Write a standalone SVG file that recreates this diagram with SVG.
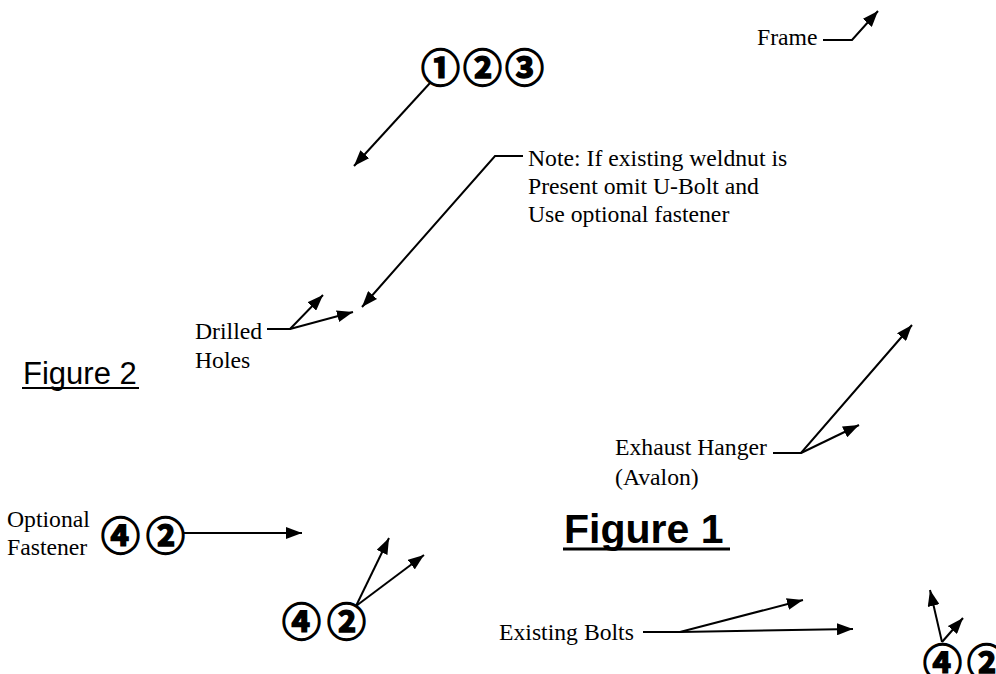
<svg xmlns="http://www.w3.org/2000/svg" width="996" height="674" viewBox="0 0 996 674">
<defs>
<marker id="ah" viewBox="0 0 16 12" refX="16" refY="6" markerWidth="16" markerHeight="12" markerUnits="userSpaceOnUse" orient="auto">
<path d="M0,0 L16,6 L0,12 z" fill="#000"/>
</marker>
</defs>
<style>
.t{font-family:"Liberation Serif","Times New Roman",serif;font-size:23.7px;fill:#000}
.c{font-family:"Noto Sans CJK JP","DejaVu Sans",sans-serif;font-weight:700;fill:#000;stroke:#000;stroke-width:1.4px}
.f{font-family:"Liberation Sans",Arial,sans-serif;fill:#000}
.l{fill:none;stroke:#000;stroke-width:2}
.a{fill:none;stroke:#000;stroke-width:2;marker-end:url(#ah)}
</style>
<rect width="996" height="674" fill="#fff"/>
<g id="callout-123"><text class="c" x="421" y="82" font-size="39" letter-spacing="3">①②③</text></g>
<g id="frame"><text class="t" x="757" y="45">Frame</text></g>
<g id="note"><text class="t" x="528" y="166">Note: If existing weldnut is</text><text class="t" x="528" y="194">Present omit U-Bolt and</text><text class="t" x="528" y="222">Use optional fastener</text></g>
<g id="drilled"><text class="t" x="195" y="339">Drilled</text><text class="t" x="195" y="368">Holes</text></g>
<g id="figure2"><text class="f" x="23" y="384" font-size="31">Figure 2</text><line x1="22" y1="388" x2="139" y2="388" stroke="#000" stroke-width="2"/></g>
<g id="exhaust"><text class="t" x="615" y="455">Exhaust Hanger</text><text class="t" x="615" y="485">(Avalon)</text></g>
<g id="optional"><text class="t" x="7" y="527">Optional</text><text class="t" x="7" y="555">Fastener</text><text class="c" x="101" y="550" font-size="39" letter-spacing="6">④②</text></g>
<g id="figure1"><text class="f" x="564" y="543" font-size="41" font-weight="700">Figure 1</text><line x1="563" y1="549" x2="730" y2="549" stroke="#000" stroke-width="3"/></g>
<g id="callout-42-mid"><text class="c" x="282" y="636" font-size="39" letter-spacing="6">④②</text></g>
<g id="bolts"><text class="t" x="499" y="640">Existing Bolts</text></g>
<g id="callout-42-right"><text class="c" x="923" y="677" font-size="39" letter-spacing="5">④②</text></g>
<g id="connectors">
<line class="a" x1="430" y1="83" x2="354" y2="166"/>
<polyline class="a" points="823,40 852,40 878,11"/>
<polyline class="a" points="523,156 495,156 362,307"/>
<polyline class="a" points="267,329 290,329 323,295"/>
<line class="a" x1="290" y1="329" x2="353" y2="312"/>
<polyline class="a" points="773,453 801,453 912,325"/>
<line class="a" x1="801" y1="453" x2="859" y2="425"/>
<line class="a" x1="183" y1="533" x2="302" y2="533"/>
<line class="a" x1="356" y1="606" x2="389" y2="538"/>
<line class="a" x1="356" y1="606" x2="424" y2="555"/>
<polyline class="a" points="643,632 680,632 803,600"/>
<line class="a" x1="680" y1="632" x2="853" y2="629"/>
<line class="a" x1="942" y1="642" x2="930" y2="590"/>
<line class="a" x1="942" y1="642" x2="963" y2="618"/>
</g>
</svg>
